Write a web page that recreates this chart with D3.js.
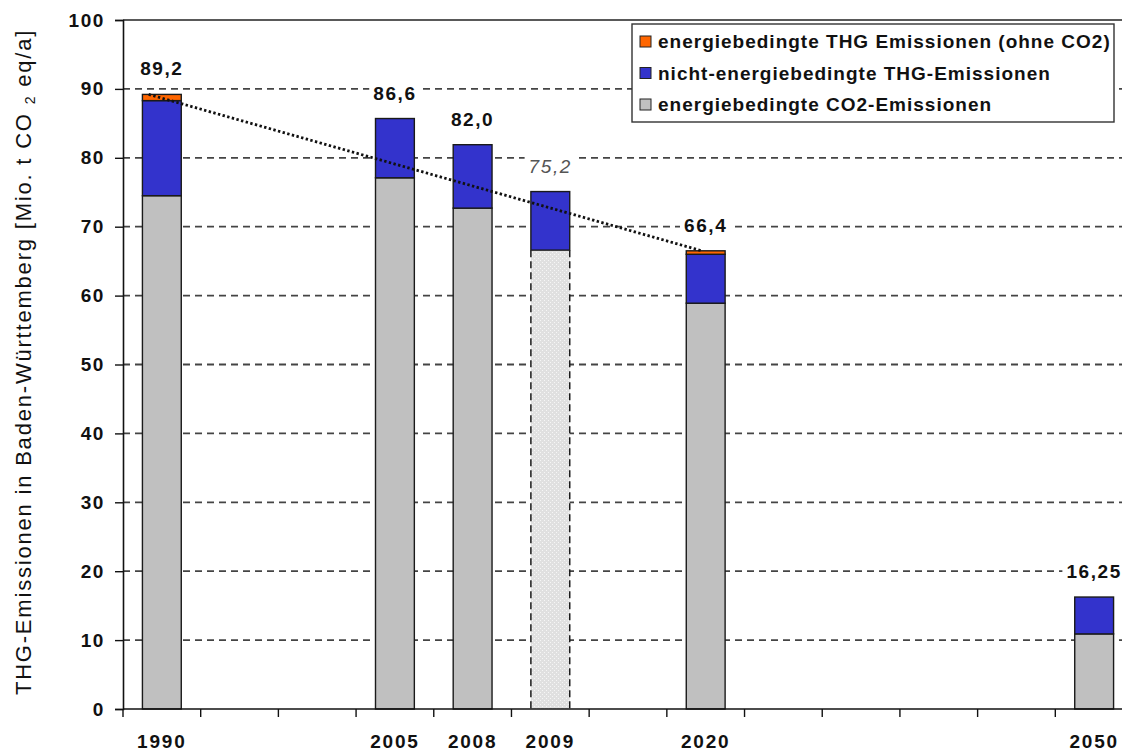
<!DOCTYPE html>
<html><head><meta charset="utf-8">
<script src="https://cdn.jsdelivr.net/npm/d3@7"></script>
<style>
html,body{margin:0;padding:0;background:#fff;}
svg{display:block;font-family:"Liberation Sans",Arial,sans-serif;}
</style></head>
<body><svg id="chart" width="1122" height="752"></svg>
<script>
// ---- data ----
const slots = ["1990","s1","s2","2005","2008","2009","s6","2020","s8","s9","s10","s11","2050"];
const years = ["1990","2005","2008","2009","2020","2050"];
const co2Energy = [74.5, 77.1, 72.7, 66.6, 58.9, 10.9];
const nonEnergy = [13.8, 8.6, 9.2, 8.5, 7.1, 5.35];
const energyOther = [0.9, 0, 0, 0, 0.5, 0];
const valueLabels = ["89,2","86,6","82,0","75,2","66,4","16,25"];
const estimated = ["2009"];
const trendYears = ["1990","2020"];
const yTicks = [0,10,20,30,40,50,60,70,80,90,100];
const seriesNames = ["energiebedingte THG Emissionen (ohne CO2)","nicht-energiebedingte THG-Emissionen","energiebedingte CO2-Emissionen"];
const seriesColors = ["#ff6600","#3333cc","#c0c0c0"];

// ---- layout ----
const svg = d3.select("#chart");
const pLeft = 123, pRight = 1133, pTop = 20, pBottom = 709;

const x = d3.scaleBand().domain(slots).range([pLeft, pRight]).paddingInner(0.5).paddingOuter(0.25);
const y = d3.scaleLinear().domain([0,100]).range([pBottom, pTop]);
const bw = x.bandwidth();
const step = x.step();

// pattern for estimated bar
const defs = svg.append("defs");
const pat = defs.append("pattern").attr("id","dots").attr("patternUnits","userSpaceOnUse")
  .attr("width",4).attr("height",4);
pat.append("rect").attr("width",4).attr("height",4).attr("fill","#e0e0e0");
pat.append("rect").attr("x",0).attr("y",0).attr("width",1).attr("height",1).attr("fill","#f6f6f6");
pat.append("rect").attr("x",2).attr("y",2).attr("width",1).attr("height",1).attr("fill","#f6f6f6");

// gridlines
svg.append("g").selectAll("line").data(yTicks.filter(t => t > 0 && t < 100)).join("line")
  .attr("x1", pLeft).attr("x2", pRight)
  .attr("y1", d => y(d)).attr("y2", d => y(d))
  .attr("stroke","#444").attr("stroke-width",1.8).attr("stroke-dasharray","7,5");
// top border
svg.append("line").attr("x1",pLeft).attr("x2",pRight).attr("y1",y(100)).attr("y2",y(100))
  .attr("stroke","#222").attr("stroke-width",1.6);

// stacked bars
const rows = years.map((yr,i) => ({year: yr, parts: [
  {v0: 0, v1: co2Energy[i], c: seriesColors[2], s: 2},
  {v0: co2Energy[i], v1: co2Energy[i] + nonEnergy[i], c: seriesColors[1], s: 1},
  {v0: co2Energy[i] + nonEnergy[i], v1: co2Energy[i] + nonEnergy[i] + energyOther[i], c: seriesColors[0], s: 0}
]}));
const bars = svg.append("g");
rows.forEach(r => {
  const est = estimated.includes(r.year);
  r.parts.filter(p => p.v1 - p.v0 > 0).forEach(p => {
    const dashed = est && p.s === 2;
    bars.append("rect")
      .attr("x", x(r.year)).attr("width", bw)
      .attr("y", y(p.v1)).attr("height", y(p.v0) - y(p.v1))
      .attr("fill", dashed ? "url(#dots)" : p.c)
      .attr("stroke", dashed ? "none" : "#1a1a1a").attr("stroke-width",1.4);
    if (dashed) {
      [x(r.year), x(r.year) + bw].forEach(xx => {
        bars.append("line").attr("x1",xx).attr("x2",xx).attr("y1",y(p.v1)).attr("y2",y(p.v0))
          .attr("stroke","#1a1a1a").attr("stroke-width",1.5).attr("stroke-dasharray","7,4");
      });
    }
  });
});

// trend line
const totals = years.map((yr,i) => co2Energy[i] + nonEnergy[i] + energyOther[i]);
const tIdx = trendYears.map(t => years.indexOf(t));
svg.append("line")
  .attr("x1", x(trendYears[0]) + bw * 0.16).attr("y1", y(totals[tIdx[0]]))
  .attr("x2", x(trendYears[1]) + bw * 0.4).attr("y2", y(totals[tIdx[1]]))
  .attr("stroke","#111").attr("stroke-width",2.8).attr("stroke-dasharray","2.4,2.4");

// value labels
const lab = svg.append("g");
years.forEach((yr,i) => {
  const est = estimated.includes(yr);
  const cx = x(yr) + bw/2, by = y(totals[i]) - 19;
  const t = lab.append("text").attr("x", cx).attr("y", by).attr("text-anchor","middle")
    .attr("font-size",19).attr("letter-spacing", 1.6)
    .attr("font-weight", est ? "normal" : "bold")
    .attr("font-style", est ? "italic" : "normal")
    .attr("fill", est ? "#555" : "#111").text(valueLabels[i]);
  const bb = t.node().getBBox();
  lab.insert("rect","text").attr("x", bb.x - 4).attr("y", bb.y - 1).attr("width", bb.width + 8).attr("height", bb.height + 2).attr("fill","#fff");
});

// y axis
const yAxis = svg.append("g").attr("transform",`translate(${pLeft},0)`)
  .call(d3.axisLeft(y).tickValues(yTicks).tickSize(8).tickPadding(10));
yAxis.select(".domain").attr("stroke","#111").attr("stroke-width",1.6);
yAxis.selectAll(".tick line").attr("stroke","#111").attr("stroke-width",1.4);
yAxis.selectAll(".tick text").attr("font-size",19).attr("font-weight","bold").attr("fill","#111")
  .attr("letter-spacing",1.6).attr("font-family","Liberation Sans, Arial, sans-serif");

// x axis
const xg = svg.append("g");
xg.append("line").attr("x1",pLeft).attr("x2",pRight).attr("y1",pBottom).attr("y2",pBottom)
  .attr("stroke","#111").attr("stroke-width",1.6);
xg.selectAll(".xt").data(d3.range(slots.length + 1)).join("line").attr("class","xt")
  .attr("x1", k => pLeft + k*step).attr("x2", k => pLeft + k*step)
  .attr("y1", pBottom).attr("y2", pBottom + 8)
  .attr("stroke","#111").attr("stroke-width",1.4);
xg.selectAll(".xl").data(years).join("text").attr("class","xl")
  .attr("x", d => x(d) + bw/2).attr("y", 748).attr("text-anchor","middle")
  .attr("font-size",19).attr("font-weight","bold").attr("letter-spacing",1.8).attr("fill","#111")
  .text(d => d);

// y label
const yl = svg.append("text").attr("transform","translate(31,362) rotate(-90)")
  .attr("text-anchor","middle").attr("font-size",22).attr("letter-spacing",1.8).attr("fill","#111");
yl.append("tspan").text("THG-Emissionen in Baden-Württemberg [Mio. t CO ");
yl.append("tspan").attr("font-size",14).attr("dy",4).text("2");
yl.append("tspan").attr("dy",-4).text(" eq/a]");

// legend
const lg = svg.append("g");
lg.append("rect").attr("x",632).attr("y",24).attr("width",482).attr("height",98)
  .attr("fill","#fff").attr("stroke","#333").attr("stroke-width",1.4);
seriesNames.forEach((n,i) => {
  const ry = 48 + i*31.5;
  lg.append("rect").attr("x",640).attr("y",ry-12).attr("width",11).attr("height",11)
    .attr("fill",seriesColors[i]).attr("stroke","#222").attr("stroke-width",1);
  lg.append("text").attr("x",658).attr("y",ry).attr("font-size",19).attr("font-weight","bold")
    .attr("letter-spacing",1).attr("fill","#111").text(n);
});
</script></body></html>
